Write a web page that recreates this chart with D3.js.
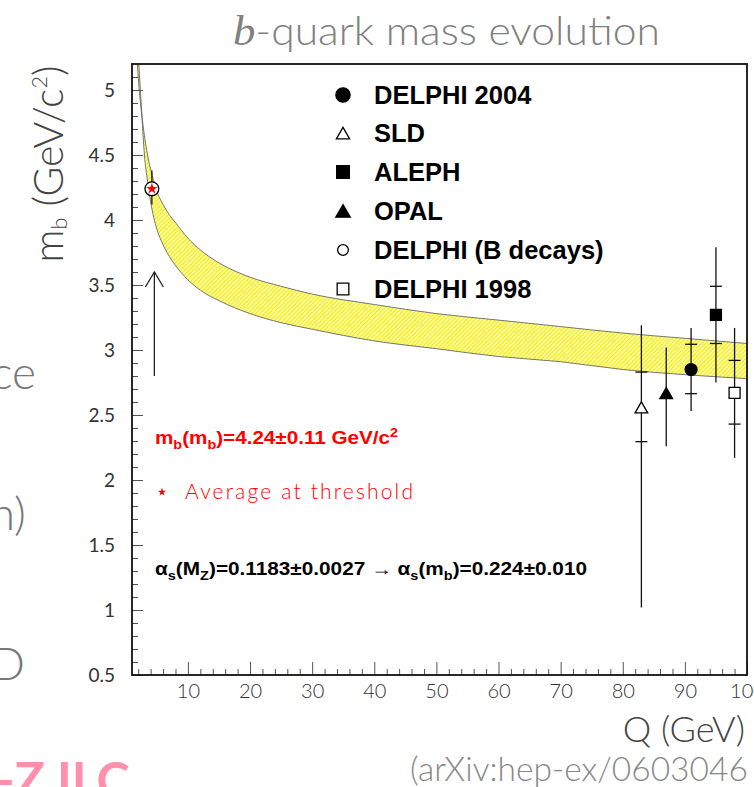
<!DOCTYPE html>
<html>
<head>
<meta charset="utf-8">
<script src="https://cdn.jsdelivr.net/npm/d3@7"></script>
<style>
  body { margin: 0; background: #fff; }
  text { font-family: "Lato", "Open Sans", sans-serif; }
  .bold { font-family: "Liberation Sans", Arial, sans-serif; font-weight: bold; }
  .serif-b { font-family: "Liberation Serif", "DejaVu Serif", serif; font-style: italic; font-weight: normal; }
</style>
</head>
<body>
<div id="viz"></div>
<script>
const width = 754, height = 787;

// band of the evolved mass
const bandQ  = [1.8, 2, 2.5, 3, 3.5, 4, 4.5, 5, 6, 7, 8, 10, 12, 15, 20, 25, 30, 40, 50, 60, 70, 80, 90, 100];
const bandHi = [5.25, 5.1, 4.84, 4.65, 4.5, 4.39, 4.3, 4.22, 4.12, 4.04, 3.98, 3.86, 3.77, 3.67, 3.56, 3.49, 3.43, 3.35, 3.28, 3.23, 3.18, 3.13, 3.09, 3.05];
const bandLo = [5.45, 5.28, 4.88, 4.5, 4.3, 4.14, 4.02, 3.93, 3.81, 3.72, 3.65, 3.54, 3.46, 3.38, 3.28, 3.21, 3.16, 3.07, 3.01, 2.95, 2.91, 2.85, 2.81, 2.78];

// measurements
const expNames = ["DELPHI 2004", "SLD", "ALEPH", "OPAL", "DELPHI (B decays)", "DELPHI 1998"];
const expQ     = [91, 83, 95, 87, 4.2, 98];
const expMass  = [2.85, 2.56, 3.27, 2.67, 4.24, 2.67];
const statLo   = [2.664, 2.295, 3.05, null, null, 2.43];
const statHi   = [3.044, 2.83, 3.49, null, null, 2.92];
const totLo    = [2.53, 1.02, 2.75, 2.26, 4.12, 2.17];
const totHi    = [3.17, 3.19, 3.79, 3.02, 4.38, 3.17];
const expShape = ["circle", "triangle", "square", "triangle", "circle", "square"];
const expFill  = [true, false, true, true, false, false];

// threshold average + arrow
const avgQ = 4.2, avgMass = 4.24;
const arrowQ = 4.6, arrowFrom = 2.8, arrowTo = 3.6;

const yTicks = [0.5, 1, 1.5, 2, 2.5, 3, 3.5, 4, 4.5, 5];
const xTicks = [10, 20, 30, 40, 50, 60, 70, 80, 90, 100];

const svg = d3.select("#viz").append("svg").attr("width", width).attr("height", height);
const margin = {top: 64, right: 7, bottom: 112, left: 132};

const x = d3.scaleLinear().domain([1, 100]).range([margin.left, width - margin.right]);
const y = d3.scaleLinear().domain([0.5, 5.2]).range([height - margin.bottom, margin.top]);

const defs = svg.append("defs");
const pat = defs.append("pattern").attr("id", "hatch")
  .attr("patternUnits", "userSpaceOnUse").attr("width", 3).attr("height", 3)
  .attr("patternTransform", "rotate(45)");
pat.append("rect").attr("width", 3).attr("height", 3).attr("fill", "#fffff0");
pat.append("line").attr("x1", 0.8).attr("y1", 0).attr("x2", 0.8).attr("y2", 3)
  .attr("stroke", "#f7f000").attr("stroke-width", 1.7);
defs.append("clipPath").attr("id", "frame").append("rect")
  .attr("x", x(1)).attr("y", y(5.2)).attr("width", x(100) - x(1)).attr("height", y(0.5) - y(5.2));

// band
const band = bandQ.map((q, i) => ({q, lo: bandLo[i], hi: bandHi[i]}));
const plot = svg.append("g").attr("clip-path", "url(#frame)");
plot.append("path").datum(band)
  .attr("fill", "url(#hatch)")
  .attr("d", d3.area().curve(d3.curveMonotoneX).x(d => x(d.q)).y0(d => y(d.lo)).y1(d => y(d.hi)));
["lo", "hi"].forEach(k => {
  plot.append("path").datum(band)
    .attr("fill", "none").attr("stroke", "#666").attr("stroke-width", 0.9)
    .attr("d", d3.line().curve(d3.curveMonotoneX).x(d => x(d.q)).y(d => y(d[k])));
});

// axes
const minorY = d3.range(6, 52).map(v => v / 10).filter(v => Math.round(v * 10) % 5 !== 0);
const minorX = d3.range(2, 100, 2).filter(v => v % 10 !== 0);

const yAxis = svg.append("g").attr("transform", `translate(${x(1)},0)`)
  .call(d3.axisLeft(y).tickValues(yTicks).tickSize(-11).tickPadding(17).tickFormat(d3.format("~g")));
svg.append("g").attr("transform", `translate(${x(1)},0)`)
  .call(d3.axisLeft(y).tickValues(minorY).tickSize(-6).tickFormat(""));
const xAxis = svg.append("g").attr("transform", `translate(0,${y(0.5)})`)
  .call(d3.axisBottom(x).tickValues(xTicks).tickSize(-13).tickPadding(9));
svg.append("g").attr("transform", `translate(0,${y(0.5)})`)
  .call(d3.axisBottom(x).tickValues(minorX).tickSize(-6).tickFormat(""));
svg.selectAll(".domain").remove();
svg.selectAll(".tick line").attr("stroke", "#555");
yAxis.selectAll("text").attr("font-size", 19).attr("fill", "#333").attr("font-family", "Liberation Sans, sans-serif");
xAxis.selectAll("text").attr("font-size", 20).attr("fill", "#333").attr("font-weight", 300);

// frame
svg.append("rect").attr("x", x(1)).attr("y", y(5.2))
  .attr("width", x(100) - x(1)).attr("height", y(0.5) - y(5.2))
  .attr("fill", "none").attr("stroke", "#111").attr("stroke-width", 1.8);

// arrow
svg.append("line").attr("x1", x(arrowQ)).attr("x2", x(arrowQ)).attr("y1", y(arrowFrom)).attr("y2", y(arrowTo))
  .attr("stroke", "#222").attr("stroke-width", 1.3);
svg.append("path")
  .attr("d", `M${x(arrowQ) - 9},${y(arrowTo) + 15}L${x(arrowQ)},${y(arrowTo)}L${x(arrowQ) + 9},${y(arrowTo) + 15}`)
  .attr("fill", "none").attr("stroke", "#222").attr("stroke-width", 1.3);

// error bars + markers
const sym = {circle: d3.symbolCircle, triangle: d3.symbolTriangle, square: d3.symbolSquare};
const symSize = {circle: 110, triangle: 70, square: 120};
expNames.forEach((n, i) => {
  const cx = x(expQ[i]);
  svg.append("line").attr("x1", cx).attr("x2", cx).attr("y1", y(totLo[i])).attr("y2", y(totHi[i]))
    .attr("stroke", "#111").attr("stroke-width", 1.3);
  if (statLo[i] !== null) {
    [statLo[i], statHi[i]].forEach(v => {
      svg.append("line").attr("x1", cx - 6).attr("x2", cx + 6).attr("y1", y(v)).attr("y2", y(v))
        .attr("stroke", "#111").attr("stroke-width", 1.3);
    });
  }
  const s = expShape[i];
  const dyT = s === "triangle" ? 2 : 0;
  svg.append("path")
    .attr("transform", `translate(${cx},${y(expMass[i]) + dyT})`)
    .attr("d", d3.symbol().type(sym[s]).size(i === 4 ? 150 : symSize[s])())
    .attr("fill", expFill[i] ? "#000" : "#fff").attr("stroke", "#000").attr("stroke-width", 1.3);
});
// threshold star
svg.append("path").attr("transform", `translate(${x(avgQ)},${y(avgMass)})`)
  .attr("d", d3.symbol().type(d3.symbolStar).size(40)())
  .attr("fill", "#ff0000");

// legend
const legRowY = [95, 133, 172, 211, 250, 289];
const legSize = {circle: 160, triangle: 90, square: 160};
expNames.forEach((n, i) => {
  const s = expShape[i];
  const dyT = s === "triangle" ? 2 : 0;
  svg.append("path").attr("transform", `translate(343,${legRowY[i] + dyT})`)
    .attr("d", d3.symbol().type(sym[s]).size(i === 4 ? 90 : (expFill[i] ? legSize[s] : legSize[s] * 0.85))())
    .attr("fill", expFill[i] ? "#000" : "#fff").attr("stroke", "#000").attr("stroke-width", 1.3);
  svg.append("text").attr("class", "bold").attr("x", 374).attr("y", legRowY[i] + 9)
    .attr("font-size", 25.5).attr("fill", "#000").text(n);
});

// annotations
function rich(t, parts) {
  parts.forEach(p => {
    const ts = t.append("tspan").text(p[0]);
    if (p[1] === "sub") ts.attr("font-size", "0.7em").attr("dy", 5);
    if (p[1] === "back") ts.attr("dy", -5);
    if (p[1] === "sup") ts.attr("font-size", "0.7em").attr("dy", -7);
  });
}
const red = svg.append("text").attr("class", "bold").attr("x", 155).attr("y", 444)
  .attr("font-size", 18).attr("fill", "#ff0000")
  .attr("textLength", 243).attr("lengthAdjust", "spacingAndGlyphs");
rich(red, [["m"], ["b", "sub"], ["(m", "back"], ["b", "sub"], [")=4.24±0.11 GeV/c", "back"], ["2", "sup"]]);

svg.append("path").attr("transform", "translate(162,492)")
  .attr("d", d3.symbol().type(d3.symbolStar).size(22)()).attr("fill", "#ff0000");
svg.append("text").attr("x", 185).attr("y", 499).attr("font-size", 21).attr("font-weight", 300)
  .attr("fill", "#ff0000").attr("textLength", 228).text("Average at threshold");

const alpha = svg.append("text").attr("class", "bold").attr("x", 155).attr("y", 575)
  .attr("font-size", 18).attr("fill", "#000")
  .attr("textLength", 432).attr("lengthAdjust", "spacingAndGlyphs");
rich(alpha, [["α"], ["s", "sub"], ["(M", "back"], ["Z", "sub"], [")=0.1183±0.0027 → α", "back"], ["s", "sub"], ["(m", "back"], ["b", "sub"], [")=0.224±0.010", "back"]]);

// axis titles
const yTitle = svg.append("text").attr("transform", "translate(63,164) rotate(-90)")
  .attr("text-anchor", "middle").attr("font-size", 42).attr("font-weight", 300).attr("fill", "#444")
  .attr("textLength", 197).attr("lengthAdjust", "spacingAndGlyphs");
yTitle.append("tspan").text("m");
yTitle.append("tspan").text("b").attr("font-size", 22).attr("dy", 4);
yTitle.append("tspan").text(" (GeV/c").attr("dy", -4);
yTitle.append("tspan").text("2").attr("font-size", 22).attr("dy", -16);
yTitle.append("tspan").text(")").attr("dy", 16);

svg.append("text").attr("x", 745).attr("y", 742).attr("text-anchor", "end")
  .attr("font-size", 36).attr("font-weight", 300).attr("fill", "#444").text("Q (GeV)");

// title and slide remnants
const title = svg.append("text").attr("x", 233).attr("y", 45)
  .attr("font-size", 40).attr("font-weight", 300).attr("fill", "#808080")
  .attr("textLength", 427).attr("lengthAdjust", "spacingAndGlyphs");
title.append("tspan").attr("class", "serif-b").attr("font-size", 42).text("b");
title.append("tspan").text("-quark mass evolution");

svg.append("text").attr("x", 410).attr("y", 781).attr("font-size", 33.5).attr("font-weight", 300)
  .attr("fill", "#888").text("(arXiv:hep-ex/0603046");

const slide = [["ce", 36, 389], ["n)", 26, 530], ["D", 25, 680]];
slide.forEach(s => {
  svg.append("text").attr("x", s[1]).attr("y", s[2]).attr("text-anchor", "end")
    .attr("font-size", 46).attr("font-weight", 300).attr("fill", "#777").text(s[0]);
});
svg.append("text").attr("x", -4).attr("y", 798).attr("font-size", 50).attr("font-weight", "bold")
  .attr("fill", "#ff8fab").text("-Z ILC");
</script>
</body>
</html>
